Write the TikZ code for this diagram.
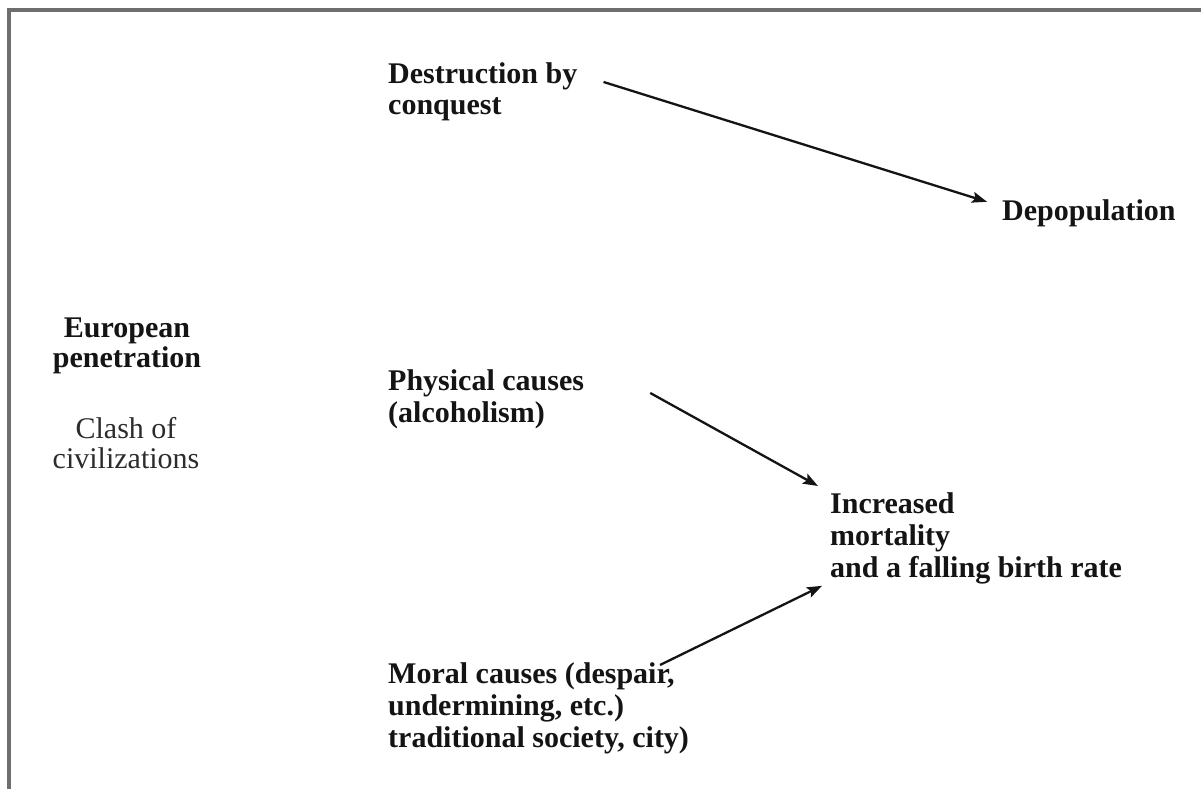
\documentclass[tikz,border=0pt]{standalone}
\usepackage{fontspec}
\setmainfont{Liberation Serif}
\usetikzlibrary{arrows.meta,calc}
\definecolor{framegray}{HTML}{6E6E6E}
\definecolor{ink}{HTML}{141414}
\tikzset{
  lbl/.style={inner sep=0pt, anchor=base west, align=left, text=ink,
    font=\fontsize{30}{32}\selectfont\bfseries},
  lblc/.style={inner sep=0pt, anchor=base, align=center, text=ink,
    font=\fontsize{30}{30}\selectfont\bfseries},
  plain/.style={inner sep=0pt, anchor=base, align=center, text=ink!90,
    font=\fontsize{30}{30}\selectfont},
  arr/.style={draw=ink, line width=2.3pt, -{Stealth[length=15pt,width=11pt,inset=3pt]}}
}
\begin{document}
\begin{tikzpicture}[x=1pt,y=-1pt]
\useasboundingbox (0,0) rectangle (1201,789);
\fill[white] (0,0) rectangle (1201,789);
\begin{scope}
\clip (0,0) rectangle (1201,789);
\draw[framegray, line width=3.5pt] (9,10) rectangle (1240,830);
\end{scope}
\node[lbl] (dest) at (388,115) {Destruction by\\conquest};
\node[lbl] (depop) at (1002,220) {Depopulation};
\node[lblc] (euro) at (127,367) {European\\penetration};
\node[plain] (clash) at (126,468) {Clash of\\civilizations};
\node[lbl] (phys) at (388,422) {Physical causes\\(alcoholism)};
\node[lbl] (incr) at (830,577) {Increased\\mortality\\and a falling birth rate};
\node[lbl] (moral) at (388,747) {Moral causes (despair,\\undermining, etc.)\\traditional society, city)};
\draw[arr] ($(dest.north east)+(26,20)$) -- ($(depop.west)+(-15,-11)$);
\draw[arr] ($(phys.north east)+(66,24)$) -- ($(incr.north west)+(-12,-6)$);
\draw[arr] ($(moral.north west)+(272,3)$) -- ($(incr.south west)+(-8,2)$);
\end{tikzpicture}
\end{document}
